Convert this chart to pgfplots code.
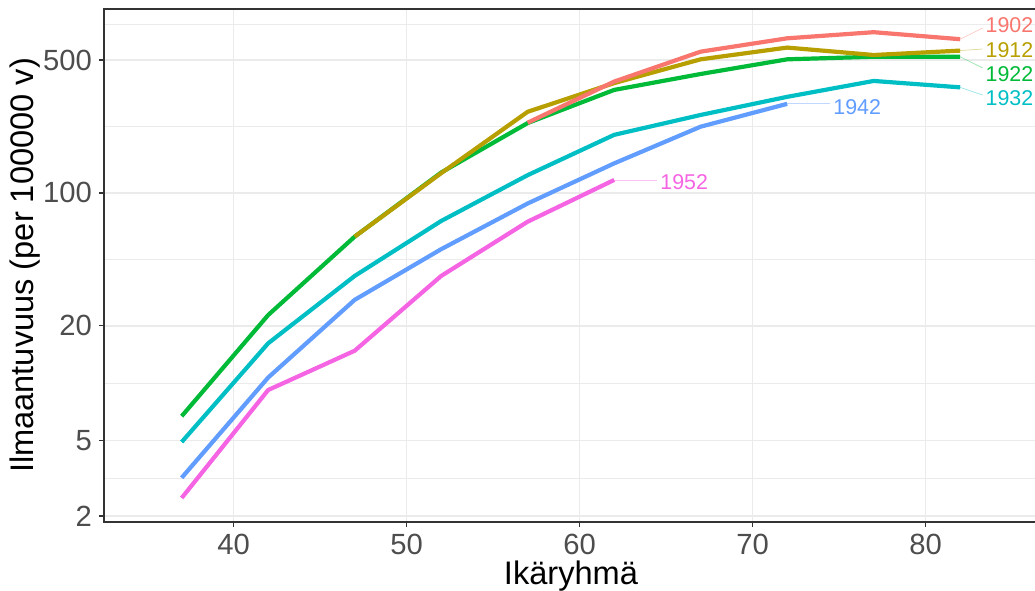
\documentclass[border=0pt]{standalone}
\usepackage{fontspec}
\setmainfont{Liberation Sans}
\usepackage{pgfplots}
\pgfplotsset{compat=1.18}
\usetikzlibrary{calc}

\definecolor{c02}{HTML}{F8766D}
\definecolor{c12}{HTML}{B79F00}
\definecolor{c22}{HTML}{00BA38}
\definecolor{c32}{HTML}{00BFC4}
\definecolor{c42}{HTML}{619CFF}
\definecolor{c52}{HTML}{F564E3}
\definecolor{gridc}{HTML}{EBEBEB}
\definecolor{framec}{HTML}{333333}
\definecolor{tickc}{HTML}{4D4D4D}

\begin{document}
\begin{tikzpicture}
\begin{semilogyaxis}[
    name=ax,
    scale only axis,
    width=467pt, height=256.5pt,
    xmin=32.51, xmax=86.50,
    ymin=1.862, ymax=927,
    xtick={40,50,60,70,80},
    xticklabels={40,50,60,70,80},
    ytick={2,5,20,100,500},
    yticklabels={2,5,20,100,500},
    minor ytick={3.162,10,44.72,223.6,773},
    xmajorgrids, ymajorgrids, yminorgrids,
    major grid style={gridc, line width=0.7pt},
    minor grid style={gridc, line width=0.35pt},
    axis line style={framec, line width=0.6pt},
    tick pos=left,
    tick align=outside,
    major tick length=2.5pt, minor tick length=0pt,
    tick style={framec, line width=0.6pt},
    /pgf/number format/assume math mode=true,
    ticklabel style={font=\fontsize{14.6}{16}\selectfont, text=tickc},
    xlabel={Ikäryhmä},
    ylabel={Ilmaantuvuus (per 100000 v)},
    label style={font=\fontsize{16.3}{18}\selectfont},
    xlabel style={at={(axis description cs:0.5,-0.1228)}, anchor=base},
    ylabel style={at={(axis description cs:-0.0846,0.5)}, anchor=center},
    clip mode=individual,
    every axis plot/.append style={line width=2.1pt, line join=round},
]
% younger cohorts first, so older ones lie on top
\addplot[c52] coordinates {
    (37,2.49) (42,9.2) (47,14.8) (52,36.6) (57,70.6) (62,117)
};
\addplot[c42] coordinates {
    (37,3.18) (42,10.7) (47,27.4) (52,50.6) (57,88) (62,143) (67,223) (72,294)
};
\addplot[c32] coordinates {
    (37,4.9) (42,16.2) (47,36.6) (52,71.2) (57,124) (62,202) (67,257) (72,320) (77,388) (82,359)
};
\addplot[c22] coordinates {
    (37,6.7) (42,22.8) (47,58.9) (52,128) (57,233) (62,348) (67,422) (72,504) (77,520) (82,520)
};
\addplot[c12] coordinates {
    (47,58.9) (52,127) (57,267) (62,378) (67,504) (72,581) (77,531) (82,560)
};
\addplot[c02] coordinates {
    (57,234) (62,385) (67,553) (72,650) (77,700) (82,643)
};

% leader lines and cohort labels
\begin{scope}[line width=0.35pt, draw opacity=0.4]
\draw[c02] (axis cs:82,643) -- (axis cs:83.3,736);
\draw[c12] (axis cs:82,560) -- (axis cs:83.3,571);
\draw[c22] (axis cs:82,520) -- (axis cs:83.3,454);
\draw[c32] (axis cs:82,359) -- (axis cs:83.3,327);
\draw[c42] (axis cs:72,294) -- (axis cs:74.48,294);
\draw[c52] (axis cs:62,117) -- (axis cs:64.48,117);
\end{scope}
\begin{scope}[every node/.style={anchor=west, inner sep=0pt, font=\fontsize{10.7}{12}\selectfont}]
\node[text=c02] at (axis cs:83.45,764) {1902};
\node[text=c12] at (axis cs:83.45,565) {1912};
\node[text=c22] at (axis cs:83.45,422) {1922};
\node[text=c32] at (axis cs:83.45,315) {1932};
\node[text=c42] at (axis cs:74.65,283) {1942};
\node[text=c52] at (axis cs:64.65,114) {1952};
\end{scope}
\end{semilogyaxis}
\pgfresetboundingbox
\path[use as bounding box] ($(ax.south west)+(-52pt,-34.5pt)$) rectangle ($(ax.north east)+(-1.5pt,4.5pt)$);
\end{tikzpicture}
\end{document}
